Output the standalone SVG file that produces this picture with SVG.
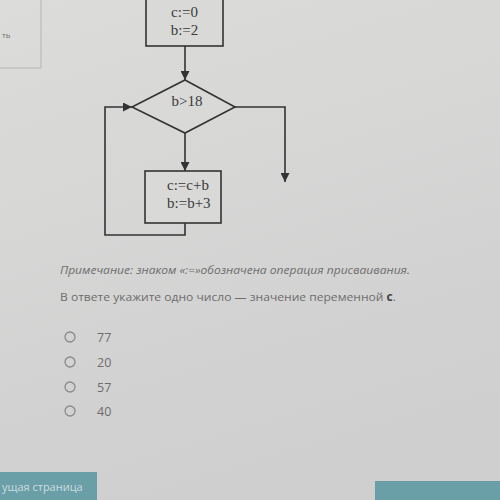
<svg xmlns="http://www.w3.org/2000/svg" width="500" height="500" viewBox="0 0 500 500">
<defs>
<linearGradient id="bg" x1="0" y1="0" x2="0.3" y2="1">
<stop offset="0" stop-color="#dcdcdb"/>
<stop offset="1" stop-color="#cfcfcf"/>
</linearGradient>
<marker id="ah" viewBox="0 0 10 10" refX="10" refY="5" markerWidth="9" markerHeight="9" markerUnits="userSpaceOnUse" orient="auto">
<path d="M0,0 L10,5 L0,10 Z" fill="#333"/>
</marker>
<style>
.ln{fill:none;stroke:#333;stroke-width:1.6}
.bx{fill:#d9d9d8;stroke:#333;stroke-width:1.6}
.ft{font-family:"Liberation Serif",serif;font-size:15px;fill:#3a3a3a}
.ui{font-family:"Open Sans","Noto Sans",sans-serif;fill:#6d6d6d}
.rd{fill:none;stroke:#8a8a8a;stroke-width:1.3}
</style>
</defs>
<rect width="500" height="500" fill="url(#bg)"/>
<g id="side-panel">
<path d="M41,0 L41,68 L0,68" fill="none" stroke="#b5b5b5" stroke-width="1"/>
<text x="2" y="38" class="ui" font-size="8">ть</text>
</g>
<g id="connectors">
<line x1="185" y1="46" x2="185" y2="80" class="ln" marker-end="url(#ah)"/>
<line x1="185" y1="133" x2="185" y2="171" class="ln" marker-end="url(#ah)"/>
<polyline points="235,107 285,107 285,182" class="ln" marker-end="url(#ah)"/>
<polyline points="185,223 185,235 105,235 105,107 132,107" class="ln" marker-end="url(#ah)"/>
</g>
<g id="init">
<rect x="146" y="-10" width="77" height="56" class="bx"/>
<text x="184.5" y="17" class="ft" text-anchor="middle">c:=0</text>
<text x="184.5" y="35" class="ft" text-anchor="middle">b:=2</text>
</g>
<g id="cond">
<polygon points="185,80 235,107 185,133 132,107" class="bx"/>
<text x="187" y="106" class="ft" text-anchor="middle">b&gt;18</text>
</g>
<g id="body">
<rect x="145" y="171" width="76" height="52" class="bx"/>
<text x="167" y="190" class="ft">c:=c+b</text>
<text x="167" y="208" class="ft">b:=b+3</text>
</g>
<g id="question">
<text x="60" y="274" class="ui" font-size="11.5" font-style="italic" fill="#7a7a7a" textLength="350" lengthAdjust="spacingAndGlyphs">Примечание: знаком «:=»обозначена операция присваивания.</text>
<text x="60" y="301" class="ui" font-size="11.5" fill="#666" textLength="336" lengthAdjust="spacingAndGlyphs">В ответе укажите одно число — значение переменной <tspan font-weight="bold" fill="#444">c</tspan>.</text>
</g>
<g id="options">
<circle cx="70" cy="337" r="5" class="rd"/>
<text x="97" y="342" class="ui" font-size="12.5">77</text>
<circle cx="70" cy="362" r="5" class="rd"/>
<text x="97" y="367" class="ui" font-size="12.5">20</text>
<circle cx="70" cy="387" r="5" class="rd"/>
<text x="97" y="392" class="ui" font-size="12.5">57</text>
<circle cx="70" cy="411" r="5" class="rd"/>
<text x="97" y="416" class="ui" font-size="12.5">40</text>
</g>
<g id="buttons">
<rect x="0" y="472" width="97" height="28" fill="#6b9fa7"/>
<text x="2" y="491" font-family="'Open Sans',sans-serif" font-size="11" fill="#c9dde0">ущая страница</text>
<rect x="375" y="481" width="125" height="19" fill="#6b9fa7"/>
</g>
</svg>
